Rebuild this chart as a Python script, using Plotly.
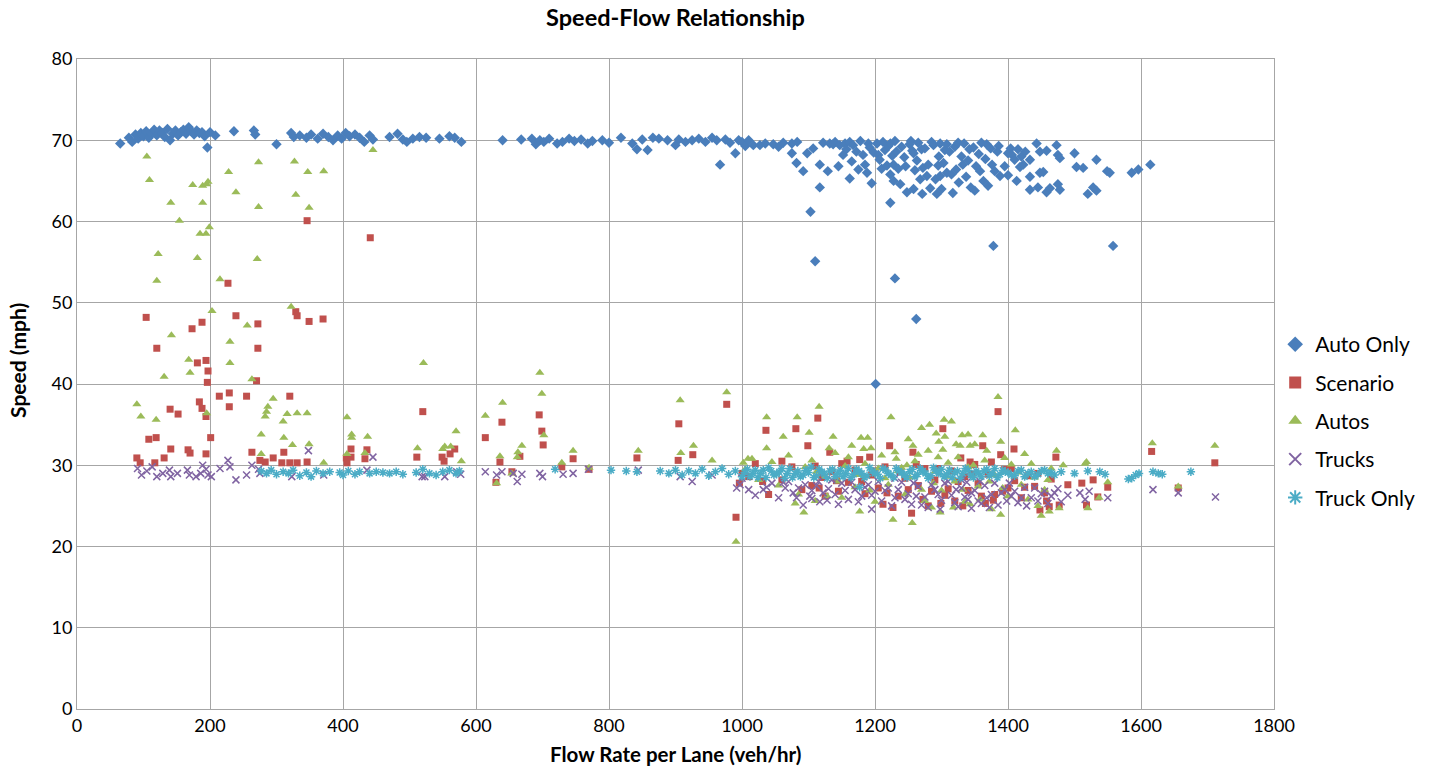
import plotly.graph_objects as go

# ---------------- data (flow veh/hr, speed mph) ----------------
AUTO_ONLY = [
    (65, 69.6), (78, 70.3), (83, 69.8), (88, 70.7), (92, 70.2), (96, 70.9), (100, 70.5), (104, 71.1),
    (108, 70.3), (112, 70.8), (116, 71.3), (120, 70.6), (124, 71.2), (128, 70.9), (132, 70.4), (136, 71.4),
    (140, 70.0), (144, 70.8), (148, 71.2), (152, 70.6), (156, 71.0), (160, 71.3), (164, 70.8), (168, 71.6),
    (172, 71.1), (176, 70.7), (180, 71.2), (184, 70.9), (188, 71.0), (192, 70.5), (196, 69.1), (200, 71.0),
    (208, 70.6), (236, 71.1), (266, 71.2), (268, 70.7), (300, 69.5), (322, 70.9), (326, 70.4), (335, 70.6),
    (345, 70.3), (352, 70.7), (362, 70.2), (370, 70.8), (378, 70.4), (385, 70.0), (392, 70.6), (398, 70.2),
    (404, 70.9), (410, 70.5), (418, 70.7), (425, 70.3), (432, 69.8), (440, 70.6), (445, 70.1), (470, 70.4),
    (482, 70.8), (490, 70.1), (496, 69.8), (505, 70.2), (515, 70.4), (525, 70.3), (545, 70.2), (560, 70.5),
    (568, 70.3), (578, 69.8),
    (640, 70.0), (668, 70.1), (684, 70.2), (690, 69.5), (696, 70.0), (702, 69.8), (710, 70.2), (722, 69.6),
    (730, 69.8), (740, 70.2), (748, 69.9), (758, 70.1), (768, 69.6), (775, 69.9), (790, 70.0), (800, 69.7),
    (818, 70.3), (835, 69.6), (842, 68.9), (850, 70.1), (858, 68.8), (866, 70.3), (875, 70.2), (888, 70.0),
    (900, 69.4), (905, 70.1), (915, 69.8), (925, 70.0), (935, 70.2), (945, 69.8), (955, 70.3), (962, 70.0),
    (967, 67.0), (975, 70.1), (982, 69.7), (990, 68.4), (995, 70.0),
    (1000, 69.8), (1005, 69.3), (1010, 70.0), (1017, 69.4), (1027, 69.4), (1035, 69.6), (1047, 69.5),
    (1055, 69.2), (1062, 69.7), (1075, 69.6), (1075, 68.4), (1082, 67.2), (1083, 69.8), (1092, 66.2),
    (1098, 68.4), (1103, 61.2), (1107, 69.0), (1110, 55.1), (1117, 67.0), (1117, 64.2), (1122, 69.7),
    (1129, 66.2), (1132, 69.6), (1137, 69.5), (1140, 69.8), (1145, 66.8), (1147, 69.4), (1152, 68.2),
    (1155, 69.6), (1157, 68.9), (1162, 69.8), (1162, 65.3), (1165, 67.4), (1167, 69.4), (1172, 68.6),
    (1175, 66.4), (1178, 69.9), (1182, 68.2), (1185, 67.0), (1188, 66.0), (1190, 69.6), (1192, 69.1),
    (1195, 64.7), (1198, 68.5), (1201, 40.0), (1203, 69.6), (1205, 68.2), (1207, 67.6), (1210, 66.5),
    (1212, 69.8), (1215, 68.8), (1218, 66.9), (1220, 69.3), (1223, 69.6), (1223, 65.8), (1223, 62.3),
    (1226, 68.1), (1228, 65.0), (1228, 67.0), (1230, 69.9), (1230, 53.0), (1232, 68.6), (1235, 66.5),
    (1238, 64.6), (1240, 69.2), (1244, 67.9), (1246, 66.8), (1248, 63.6), (1252, 69.5), (1254, 69.9),
    (1256, 68.7), (1258, 64.0), (1258, 68.4), (1260, 66.3), (1262, 48.0), (1263, 67.5), (1265, 69.7),
    (1268, 65.2), (1270, 68.9), (1271, 63.4), (1272, 66.6), (1275, 69.0), (1278, 65.6), (1280, 67.0),
    (1283, 64.1), (1285, 69.8), (1288, 69.4), (1291, 65.2), (1293, 63.4), (1295, 66.9), (1296, 68.0),
    (1298, 69.6), (1298, 65.6), (1300, 64.0), (1303, 67.2), (1305, 68.8), (1308, 69.5), (1308, 66.0),
    (1312, 68.6), (1315, 65.8), (1317, 63.5), (1320, 69.2), (1322, 66.4), (1325, 69.7), (1326, 64.8),
    (1330, 68.0), (1332, 67.0), (1334, 69.6), (1337, 65.5), (1340, 67.5), (1342, 68.9), (1344, 64.2),
    (1348, 69.1), (1350, 63.8), (1352, 66.8), (1356, 68.3), (1358, 66.2), (1360, 69.7), (1363, 65.0),
    (1366, 67.7), (1368, 69.5), (1370, 64.4), (1374, 69.0), (1376, 67.0), (1378, 57.0), (1380, 66.2),
    (1384, 68.6), (1386, 69.3), (1388, 65.6), (1395, 66.8), (1400, 68.4), (1400, 65.7), (1404, 69.0),
    (1406, 68.2), (1410, 67.6), (1413, 65.0), (1415, 68.9), (1418, 66.7), (1420, 68.0), (1423, 67.0),
    (1426, 68.6), (1433, 67.6), (1433, 65.5), (1433, 63.9), (1443, 69.6), (1445, 64.2), (1448, 68.6),
    (1448, 66.0), (1453, 66.1), (1458, 68.7), (1458, 63.6), (1463, 64.1), (1473, 69.4), (1475, 68.2),
    (1475, 64.6), (1478, 67.8), (1478, 63.9), (1500, 68.4), (1503, 66.7), (1513, 66.6), (1520, 63.4),
    (1528, 64.2), (1533, 67.6), (1533, 63.8), (1549, 66.2), (1553, 66.0), (1558, 57.0), (1586, 66.0),
    (1596, 66.4), (1614, 67.0),
]

SCENARIO = [
    (90, 30.9), (95, 30.3), (104, 48.2), (108, 33.2), (117, 30.3), (119, 33.4), (120, 44.4), (131, 30.9),
    (140, 36.9), (141, 32.0), (152, 36.3), (167, 31.9), (170, 31.5), (173, 46.8), (181, 42.6), (184, 37.8),
    (188, 47.6), (188, 37.0), (194, 42.9), (194, 36.0), (194, 31.4), (196, 40.2), (197, 41.6), (201, 33.4),
    (214, 38.5), (227, 52.4), (229, 38.9), (229, 37.2), (239, 48.4), (255, 38.5), (263, 31.6), (270, 40.4),
    (272, 47.4), (272, 44.4), (275, 30.6), (283, 30.4), (295, 30.9), (308, 30.3), (311, 31.6), (320, 38.5),
    (320, 30.3), (329, 48.9), (331, 48.4), (331, 30.3), (346, 60.1), (346, 30.4), (349, 47.7), (370, 48.0),
    (405, 30.9), (406, 30.3), (412, 32.0), (412, 31.0), (433, 30.8), (436, 31.9), (441, 58.0), (511, 31.0),
    (520, 36.6), (549, 31.0), (552, 30.5), (561, 31.4), (568, 32.0), (614, 33.4), (630, 27.9), (636, 30.4),
    (639, 35.3), (654, 29.2), (666, 31.1), (695, 36.2), (699, 34.2), (701, 32.5), (729, 29.8), (746, 30.8),
    (770, 29.5), (842, 30.9), (904, 30.6), (905, 35.1), (926, 31.3), (977, 37.5), (991, 23.6), (996, 27.8),
    (1000, 29.0), (1010, 28.6), (1020, 30.2), (1031, 28.0), (1036, 34.3), (1040, 26.4), (1060, 30.5),
    (1060, 28.2), (1075, 29.8), (1081, 34.5), (1090, 27.0), (1099, 32.4), (1105, 27.5), (1110, 29.9),
    (1114, 35.8), (1116, 27.2), (1120, 28.5), (1125, 26.2), (1132, 31.6), (1135, 29.2), (1142, 28.1),
    (1145, 26.8), (1150, 30.2), (1158, 30.5), (1160, 27.9), (1170, 29.4), (1177, 30.7), (1180, 28.0),
    (1185, 26.5), (1192, 31.0), (1195, 28.8), (1200, 29.3), (1205, 27.2), (1212, 25.2), (1215, 29.8),
    (1218, 26.6), (1222, 32.4), (1227, 24.8), (1235, 26.2), (1238, 29.2), (1245, 28.4), (1250, 27.0),
    (1255, 24.1), (1257, 31.6), (1262, 30.1), (1265, 27.5), (1272, 25.8), (1275, 29.6), (1280, 25.0),
    (1285, 26.8), (1290, 28.2), (1295, 29.6), (1299, 25.3), (1302, 34.5), (1305, 26.3), (1310, 27.1),
    (1315, 29.3), (1320, 25.6), (1325, 28.0), (1329, 30.9), (1332, 25.0), (1335, 28.6), (1340, 26.9),
    (1343, 30.4), (1346, 28.9), (1350, 30.1), (1355, 27.8), (1360, 26.2), (1362, 32.4), (1366, 25.3),
    (1370, 28.9), (1375, 30.4), (1378, 25.7), (1380, 26.4), (1385, 36.6), (1389, 31.3), (1392, 26.8),
    (1395, 29.5), (1400, 27.2), (1405, 29.6), (1409, 32.0), (1410, 28.1), (1420, 26.0), (1425, 27.3),
    (1430, 28.7), (1440, 27.4), (1445, 29.0), (1448, 24.5), (1455, 26.6), (1458, 25.6), (1462, 24.9),
    (1465, 28.3), (1472, 31.0), (1477, 25.1), (1490, 27.6), (1511, 27.8), (1518, 25.1), (1528, 28.2),
    (1535, 26.1), (1550, 27.3), (1616, 31.7), (1656, 27.2), (1711, 30.3),
]

AUTOS = [
    (90, 37.5), (96, 36.0), (105, 68.0), (109, 65.1), (119, 35.6), (120, 52.7), (122, 56.0), (131, 40.9),
    (141, 62.3), (142, 46.0), (154, 60.1), (168, 43.0), (170, 41.4), (174, 64.5), (181, 55.5), (185, 58.5),
    (189, 64.4), (189, 62.3), (194, 58.5), (195, 64.6), (195, 36.4), (197, 64.9), (199, 59.3), (203, 49.0),
    (215, 52.9), (228, 66.1), (230, 45.2), (230, 42.6), (239, 63.6), (256, 47.2), (263, 40.6), (271, 55.4),
    (273, 67.3), (273, 61.8), (277, 33.8), (277, 31.4), (283, 36.0), (285, 36.6), (287, 37.2), (295, 38.2),
    (310, 35.4), (311, 33.4), (316, 36.3), (322, 49.5), (324, 32.5), (327, 67.4), (329, 63.3), (331, 36.4),
    (346, 36.4), (347, 66.1), (349, 61.7), (349, 32.6), (371, 66.2), (371, 30.3), (406, 35.9), (406, 31.4),
    (413, 33.8), (413, 33.4), (433, 31.5), (437, 33.5), (445, 68.8), (512, 32.1), (521, 42.6), (550, 32.0),
    (553, 32.3), (562, 32.3), (570, 34.2), (578, 30.5), (614, 36.1), (631, 27.8), (636, 31.1), (640, 37.7),
    (654, 29.0), (662, 31.0), (663, 31.6), (669, 32.4), (696, 41.4), (699, 38.8), (702, 33.7), (729, 30.3),
    (746, 31.8), (770, 29.7), (844, 31.8), (907, 38.0), (908, 31.5), (927, 32.4), (955, 30.6), (977, 39.0),
    (991, 20.6), (1002, 30.3), (1005, 29.5), (1009, 30.8), (1015, 30.8), (1025, 28.2), (1037, 35.9),
    (1037, 32.1), (1045, 30.4), (1055, 27.5), (1062, 33.5), (1070, 31.2), (1080, 25.3), (1083, 35.9),
    (1085, 26.4), (1093, 24.2), (1095, 29.8), (1101, 34.0), (1105, 30.6), (1110, 25.6), (1112, 29.2),
    (1116, 37.2), (1125, 28.6), (1128, 26.2), (1131, 32.1), (1137, 33.5), (1140, 31.5), (1145, 28.0),
    (1150, 26.0), (1155, 29.9), (1160, 31.0), (1165, 32.4), (1170, 27.3), (1175, 28.8), (1177, 24.3),
    (1179, 33.4), (1183, 32.0), (1185, 30.2), (1189, 33.4), (1192, 26.9), (1194, 32.1), (1200, 25.5),
    (1205, 29.6), (1210, 31.2), (1215, 28.4), (1220, 27.6), (1224, 35.9), (1227, 23.3), (1230, 31.6),
    (1232, 30.8), (1235, 29.3), (1240, 29.7), (1245, 26.4), (1248, 30.0), (1250, 33.2), (1252, 28.5),
    (1256, 22.9), (1257, 32.4), (1260, 30.5), (1265, 31.3), (1270, 27.0), (1270, 34.6), (1275, 25.6),
    (1280, 31.8), (1282, 35.0), (1285, 24.8), (1288, 27.8), (1290, 29.2), (1292, 33.9), (1295, 31.0),
    (1296, 32.9), (1298, 24.2), (1300, 26.9), (1302, 31.9), (1304, 35.6), (1305, 33.5), (1308, 28.6),
    (1310, 30.3), (1315, 35.4), (1318, 24.8), (1320, 28.0), (1322, 32.6), (1325, 31.0), (1328, 32.4),
    (1331, 33.7), (1332, 27.0), (1335, 25.5), (1340, 29.8), (1340, 33.8), (1343, 32.4), (1343, 25.2),
    (1348, 30.0), (1350, 32.6), (1355, 27.4), (1358, 25.8), (1362, 33.7), (1365, 30.6), (1368, 31.8),
    (1372, 28.0), (1375, 24.6), (1380, 28.8), (1385, 38.4), (1389, 32.9), (1389, 23.9), (1392, 27.2),
    (1395, 30.9), (1400, 26.2), (1405, 30.1), (1411, 34.3), (1415, 29.1), (1420, 27.6), (1425, 31.4),
    (1430, 25.8), (1435, 30.2), (1440, 28.5), (1445, 25.0), (1450, 23.8), (1455, 27.0), (1460, 28.2),
    (1462, 24.3), (1465, 29.6), (1473, 31.8), (1477, 24.7), (1483, 30.0), (1516, 30.2), (1518, 30.4),
    (1520, 24.7), (1537, 26.0), (1550, 27.9), (1617, 32.7), (1656, 27.4), (1711, 32.4),
]

TRUCKS = [
    (91, 29.6), (97, 28.8), (105, 29.3), (113, 29.8), (120, 28.6), (129, 29.0), (139, 29.4), (141, 28.6),
    (151, 29.0), (166, 29.4), (169, 28.8), (179, 28.6), (186, 29.0), (189, 30.0), (194, 29.5), (197, 28.8),
    (202, 28.6), (215, 29.6), (227, 30.6), (230, 29.8), (239, 28.2), (255, 28.8), (263, 30.0), (273, 29.5),
    (275, 29.0), (323, 28.6), (348, 31.8), (371, 28.8), (436, 29.4), (445, 31.0), (519, 28.6), (523, 28.6),
    (553, 28.6), (571, 29.2), (577, 28.9), (614, 29.2), (631, 28.8), (639, 29.2), (656, 29.0), (662, 28.0),
    (669, 28.9), (696, 29.0), (700, 28.6), (731, 28.9), (746, 29.0), (769, 29.5), (844, 29.4), (907, 28.6),
    (925, 28.0), (955, 28.8), (992, 27.2), (997, 27.6), (1000, 28.4), (1010, 27.0), (1020, 26.3),
    (1032, 27.0), (1037, 27.3), (1045, 27.8), (1055, 26.0), (1062, 27.9), (1065, 27.2), (1070, 28.0),
    (1077, 26.6), (1082, 26.0), (1085, 27.2), (1092, 25.1), (1095, 27.6), (1102, 26.2), (1105, 26.9),
    (1105, 25.9), (1112, 27.5), (1115, 28.0), (1117, 25.5), (1122, 26.6), (1128, 25.7), (1130, 27.1),
    (1135, 28.2), (1140, 26.4), (1145, 25.2), (1150, 27.8), (1155, 26.9), (1160, 25.8), (1165, 27.9),
    (1170, 27.0), (1175, 25.5), (1180, 26.2), (1185, 27.3), (1190, 27.6), (1195, 24.6), (1195, 26.3),
    (1200, 26.8), (1205, 28.0), (1210, 25.6), (1215, 26.9), (1220, 27.2), (1225, 25.0), (1230, 26.0),
    (1230, 28.4), (1235, 27.0), (1240, 27.9), (1245, 25.8), (1250, 26.5), (1255, 25.2), (1258, 27.8),
    (1262, 26.2), (1265, 27.4), (1270, 25.1), (1275, 26.1), (1280, 24.8), (1285, 27.6), (1290, 27.0),
    (1295, 26.4), (1298, 24.6), (1300, 25.7), (1305, 27.8), (1310, 28.0), (1315, 26.3), (1320, 25.4),
    (1322, 27.0), (1325, 24.9), (1330, 27.2), (1330, 28.2), (1335, 26.1), (1338, 27.9), (1340, 25.8),
    (1345, 24.7), (1345, 26.6), (1350, 26.9), (1355, 25.6), (1358, 28.0), (1360, 25.3), (1365, 27.5),
    (1368, 26.0), (1372, 24.8), (1375, 26.4), (1380, 27.8), (1385, 25.1), (1390, 26.6), (1395, 27.0),
    (1398, 25.6), (1402, 27.8), (1405, 26.2), (1410, 26.8), (1415, 25.4), (1420, 26.0), (1425, 27.3),
    (1428, 25.0), (1435, 26.0), (1440, 27.2), (1445, 25.6), (1450, 26.5), (1455, 26.8), (1460, 25.3),
    (1465, 26.2), (1470, 26.6), (1475, 27.1), (1480, 25.5), (1490, 26.3), (1508, 26.6), (1516, 25.8),
    (1522, 26.8), (1550, 26.0), (1618, 27.0), (1656, 26.6), (1712, 26.1),
]

TRUCK_ONLY = [
    (277, 29.3), (285, 29.0), (292, 29.4), (300, 28.9), (310, 29.2), (318, 29.0), (325, 29.4), (335, 28.7),
    (345, 29.1), (352, 28.6), (360, 29.3), (370, 29.0), (380, 29.2), (395, 29.1), (400, 28.8), (408, 29.3),
    (418, 28.9), (425, 29.2), (440, 29.0), (450, 29.2), (460, 29.1), (470, 29.0), (480, 29.2), (490, 28.9),
    (510, 29.1), (520, 29.5), (530, 29.0), (540, 28.8), (550, 29.2), (560, 29.4), (570, 29.0), (575, 29.3),
    (719, 29.5), (803, 29.4), (826, 29.3), (842, 29.2), (877, 29.3),
    (890, 29.0), (900, 29.4), (910, 28.8), (920, 29.3), (930, 29.0), (940, 29.5), (950, 28.7), (960, 29.2),
    (970, 29.6), (980, 28.9), (990, 29.3), (1000, 28.6), (1004, 29.1), (1008, 29.5), (1012, 28.6),
    (1016, 29.0), (1020, 29.4), (1024, 28.5), (1028, 29.0), (1032, 29.4), (1036, 28.5), (1040, 29.7),
    (1044, 29.3), (1048, 28.8), (1052, 28.9), (1056, 29.2), (1060, 29.6), (1064, 28.4), (1068, 29.0),
    (1072, 29.6), (1076, 28.5), (1080, 29.0), (1084, 29.3), (1088, 28.6), (1092, 28.8), (1096, 29.4),
    (1100, 29.1), (1104, 29.8), (1108, 28.5), (1112, 28.7), (1116, 29.5), (1120, 29.2), (1124, 28.9),
    (1128, 28.4), (1132, 29.3), (1136, 29.5), (1140, 28.6), (1144, 29.0), (1148, 29.4), (1152, 28.6),
    (1156, 29.0), (1160, 29.6), (1164, 28.5), (1168, 28.9), (1172, 29.5), (1176, 29.3), (1177, 27.3),
    (1180, 29.0), (1184, 28.5), (1188, 28.7), (1192, 29.7), (1196, 29.3), (1200, 29.0), (1204, 28.9),
    (1208, 28.4), (1212, 29.6), (1216, 29.4), (1220, 29.0), (1224, 28.8), (1228, 28.5), (1232, 29.6),
    (1236, 29.3), (1240, 29.1), (1244, 28.8), (1248, 28.5), (1252, 29.2), (1256, 29.5), (1260, 28.6),
    (1264, 28.9), (1268, 29.6), (1272, 29.3), (1276, 29.0), (1280, 28.4), (1284, 28.7), (1288, 29.7),
    (1292, 29.3), (1296, 29.0), (1300, 29.5), (1304, 28.6), (1308, 28.9), (1312, 29.4), (1316, 28.5),
    (1320, 29.1), (1324, 29.3), (1328, 28.4), (1332, 29.0), (1336, 29.6), (1340, 29.4), (1344, 28.8),
    (1348, 28.5), (1352, 29.3), (1356, 29.0), (1360, 28.6), (1364, 29.3), (1368, 29.5), (1372, 28.7),
    (1376, 29.0), (1380, 29.6), (1384, 28.5), (1388, 28.9), (1392, 29.4), (1396, 29.2), (1400, 29.1),
    (1405, 28.8), (1410, 28.7), (1415, 29.3), (1420, 29.4), (1425, 28.6), (1430, 29.0), (1435, 29.2),
    (1440, 28.6), (1445, 28.9), (1450, 29.3), (1455, 29.4), (1460, 29.0), (1465, 29.1), (1470, 28.8),
    (1480, 29.2), (1500, 29.0), (1520, 29.3), (1538, 29.2), (1546, 28.9), (1581, 28.3), (1586, 28.4),
    (1592, 28.8), (1597, 29.0), (1618, 29.2), (1626, 29.0), (1632, 28.9), (1675, 29.2),
]

X_TICKS = [0, 200, 400, 600, 800, 1000, 1200, 1400, 1600, 1800]
Y_TICKS = [0, 10, 20, 30, 40, 50, 60, 70, 80]

SERIES = [
    ("Auto Only", AUTO_ONLY, "diamond", 8, "#4A7EBB"),
    ("Scenario", SCENARIO, "square", 7, "#C0504D"),
    ("Autos", AUTOS, "triangle-up", 8, "#9BBB59"),
    ("Trucks", TRUCKS, "x-thin-open", 7, "#8064A2"),
    ("Truck Only", TRUCK_ONLY, "asterisk-open", 7, "#4BACC6"),
]

FONT = "Lato, 'Open Sans', sans-serif"

fig = go.Figure()
for i, (name, pts, sym, size, color) in enumerate(SERIES):
    xs = [p[0] for p in pts]
    ys = [p[1] for p in pts]
    if sym.endswith("open"):
        marker = dict(symbol=sym, size=size, color=color, line=dict(color=color, width=1.5))
    else:
        marker = dict(symbol=sym, size=size, color=color, line=dict(width=0))
    fig.add_trace(go.Scatter(x=xs, y=ys, mode="markers", name=name, marker=marker,
                             legendgroup=f"g{i}"))

fig.update_layout(
    width=1435, height=769,
    margin=dict(l=77, r=161, t=59, b=60, autoexpand=False),
    paper_bgcolor="white", plot_bgcolor="white",
    font=dict(family=FONT, color="#000000", size=18),
    title=dict(text="<b>Speed-Flow Relationship</b>", x=0.5, xanchor="center",
               xref="paper", y=0.977, yanchor="middle",
               font=dict(size=23.5, family=FONT, color="#000000")),
    legend=dict(x=1.001, xanchor="left", y=0.443, yanchor="middle",
                font=dict(size=21, family=FONT, color="#000000"),
                tracegroupgap=8, itemsizing="constant", bgcolor="rgba(0,0,0,0)"),
    showlegend=True,
    annotations=[
        dict(text="<b>Flow Rate per Lane (veh/hr)</b>", xref="paper", yref="paper",
             x=0.5, y=-0.069, xanchor="center", yanchor="middle", showarrow=False,
             font=dict(size=20.5, family=FONT, color="#000000")),
        dict(text="<b>Speed (mph)</b>", xref="paper", yref="paper",
             x=-0.0493, y=0.537, xanchor="center", yanchor="middle", showarrow=False,
             textangle=-90, font=dict(size=21, family=FONT, color="#000000")),
    ],
)
fig.update_xaxes(range=[0, 1800], tickvals=X_TICKS, ticktext=[str(v) for v in X_TICKS],
                 showgrid=True, gridcolor="#A6A6A6", gridwidth=1, automargin=False,
                 showline=True, linecolor="#A6A6A6", linewidth=1, mirror=True,
                 zeroline=False, ticks="", tickfont=dict(size=18, family=FONT))
fig.update_yaxes(range=[0, 80], tickvals=Y_TICKS, ticktext=[str(v) for v in Y_TICKS],
                 showgrid=True, gridcolor="#A6A6A6", gridwidth=1, automargin=False,
                 showline=True, linecolor="#A6A6A6", linewidth=1, mirror=True,
                 zeroline=False, ticks="", tickfont=dict(size=18, family=FONT))

fig.write_html("out.html")
